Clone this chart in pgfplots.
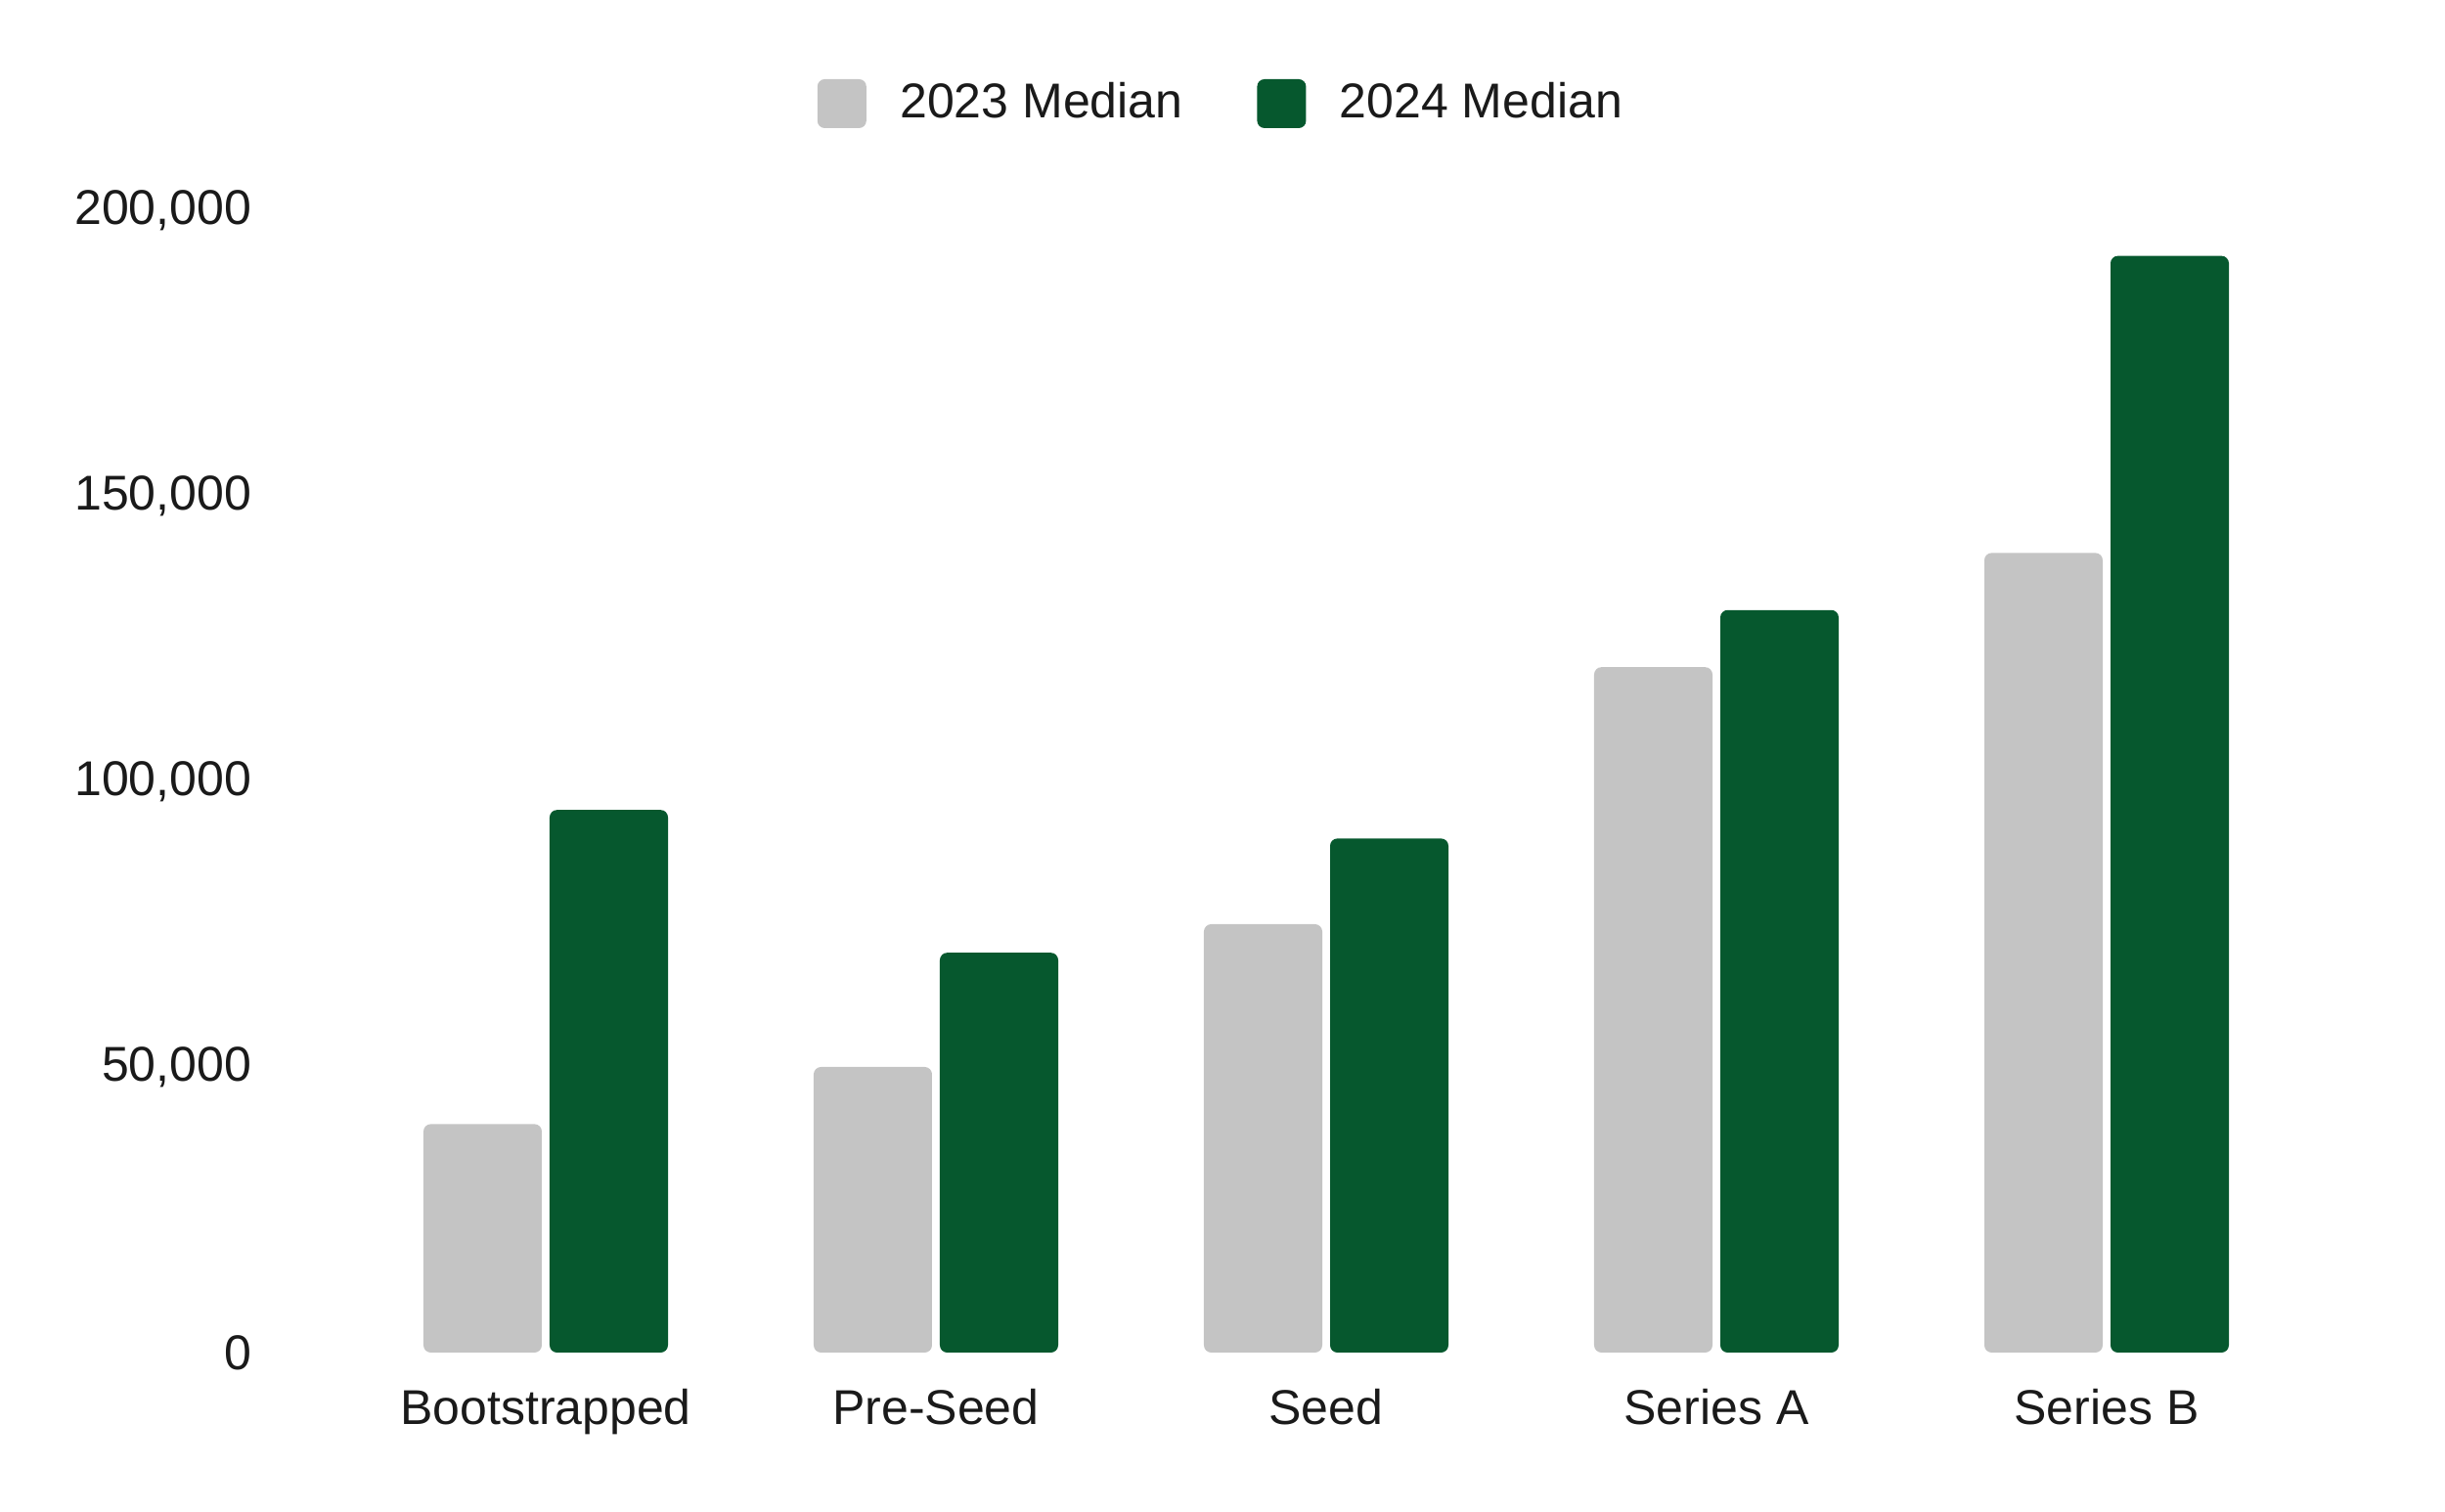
\documentclass[border=0pt]{standalone}
\usepackage{fontspec}
\setmainfont{Liberation Sans}
\usepackage{pgfplots}
\pgfplotsset{compat=1.18}
\definecolor{gr23}{HTML}{C4C4C4}
\definecolor{gr24}{HTML}{06582E}
\definecolor{txt}{HTML}{1A1A1A}
\begin{document}
\begin{tikzpicture}
\useasboundingbox (-55.74pt,-32.6pt) rectangle (444.26pt,276.6pt);
\begin{axis}[
  at={(0pt,0pt)}, anchor=south west,
  scale only axis, width=414.96pt, height=233.6pt,
  xmin=-0.7, xmax=4.5, ymin=0, ymax=200000,
  xtick={0,1,2,3,4},
  xticklabels={Bootstrapped,Pre-Seed,Seed,Series A,Series B},
  ytick={0,50000,100000,150000,200000},
  scaled y ticks=false,
  yticklabel style={xshift=-0.8pt, /pgf/number format/.cd, fixed, 1000 sep={,}, assume math mode=true},
  xticklabel style={anchor=base, yshift=-14.7pt},
  ticklabel style={text=txt, font=\fontsize{10pt}{12pt}\selectfont},
  axis line style={draw=none},
  major tick length=0pt,
  tick style={draw=none},
  clip=false,
  legend columns=2,
  legend style={at={(0.4669,1.0933)}, anchor=center, draw=none, fill=none,
    font=\fontsize{10pt}{12pt}\selectfont, text=txt,
    nodes={inner sep=0pt},
    /tikz/every odd column/.append style={column sep=6.9pt},
    /tikz/every even column/.append style={column sep=15.2pt}},
  legend image code/.code={\fill[#1, draw=none, rounded corners=1.5pt] (0pt,-5pt) rectangle (10pt,5pt);},
]
\addplot[ybar, bar width=24.2pt, bar shift=-12.9pt, fill=gr23, draw=none, rounded corners=1.5pt]
  coordinates {(0,40000) (1,50000) (2,75000) (3,120000) (4,140000)};
\addlegendentry{2023 Median}
\addplot[ybar, bar width=24.2pt, bar shift=12.9pt, fill=gr24, draw=none, rounded corners=1.5pt]
  coordinates {(0,95000) (1,70000) (2,90000) (3,130000) (4,192000)};
\addlegendentry{2024 Median}
\end{axis}
\end{tikzpicture}
\end{document}
